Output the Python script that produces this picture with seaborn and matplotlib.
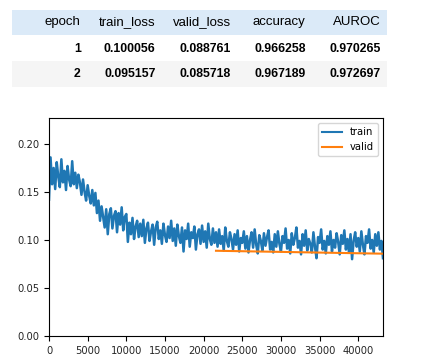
"""
plot.py - training curve for a 2-epoch run, with the epoch summary table above it.
"""
import matplotlib
matplotlib.use("Agg")
import matplotlib.pyplot as plt
import numpy as np
import pandas as pd
import seaborn as sns
from matplotlib.patches import Rectangle

# epoch summary table
table_columns = ["epoch", "train_loss", "valid_loss", "accuracy", "AUROC"]
epochs = ["1", "2"]
train_loss_epoch = ["0.100056", "0.095157"]
valid_loss_epoch = ["0.088761", "0.085718"]
accuracy_epoch = ["0.966258", "0.967189"]
auroc_epoch = ["0.970265", "0.972697"]

# per-batch training loss, read every 200 iterations
batch_step = 200
train_loss = [
    0.142, 0.186, 0.158, 0.175, 0.153, 0.181, 0.166, 0.155, 0.184, 0.160,
    0.172, 0.152, 0.177, 0.163, 0.156, 0.182, 0.158, 0.170, 0.154, 0.168,
    0.160, 0.147, 0.163, 0.150, 0.141, 0.157, 0.146, 0.138, 0.152, 0.136,
    0.149, 0.128, 0.141, 0.120, 0.135, 0.124, 0.113, 0.132, 0.106, 0.127,
    0.133, 0.112, 0.125, 0.130, 0.108, 0.128, 0.116, 0.134, 0.110, 0.124,
    0.127, 0.098, 0.118, 0.106, 0.123, 0.101, 0.114, 0.120, 0.103, 0.117,
    0.104, 0.121, 0.097, 0.112, 0.118, 0.099, 0.109, 0.116, 0.095, 0.113,
    0.119, 0.101, 0.110, 0.096, 0.117, 0.105, 0.098, 0.114, 0.102, 0.120,
    0.099, 0.112, 0.094, 0.116, 0.104, 0.097, 0.113, 0.088, 0.110, 0.101,
    0.117, 0.093, 0.108, 0.102, 0.114, 0.090, 0.106, 0.111, 0.096, 0.115,
    0.098, 0.109, 0.092, 0.117, 0.101, 0.095, 0.112, 0.097, 0.108, 0.093,
    0.111, 0.096, 0.104, 0.089, 0.113, 0.099, 0.093, 0.108, 0.101, 0.090,
    0.106, 0.095, 0.110, 0.088, 0.102, 0.097, 0.109, 0.091, 0.104, 0.087,
    0.100, 0.108, 0.092, 0.111, 0.095, 0.086, 0.105, 0.099, 0.089, 0.107,
    0.094, 0.103, 0.110, 0.090, 0.098, 0.087, 0.106, 0.093, 0.109, 0.096,
    0.088, 0.104, 0.097, 0.112, 0.091, 0.100, 0.086, 0.107, 0.095, 0.102,
    0.113, 0.092, 0.099, 0.085, 0.106, 0.094, 0.110, 0.089, 0.101, 0.096,
    0.087, 0.108, 0.093, 0.081, 0.103, 0.097, 0.111, 0.090, 0.099, 0.086,
    0.104, 0.095, 0.109, 0.088, 0.100, 0.092, 0.107, 0.098, 0.085, 0.105,
    0.096, 0.110, 0.090, 0.101, 0.087, 0.106, 0.080, 0.099, 0.108, 0.093,
    0.102, 0.088, 0.109, 0.095, 0.085, 0.104, 0.097, 0.111, 0.091, 0.100,
    0.087, 0.106, 0.094, 0.108, 0.090, 0.099, 0.081,
]

# validation loss at the end of each epoch
valid_iters = [21600, 43200]
valid_loss = [0.088761, 0.085718]

W, H = 423, 361
fig = plt.figure(figsize=(W / 100, H / 100), dpi=100)

# ---- table drawn in pixel coords on a full-figure axes
tab = fig.add_axes([0, 0, 1, 1])
tab.set_xlim(0, W)
tab.set_ylim(H, 0)
tab.axis("off")

row_edges = [(9.5, 35), (35, 60.7), (60.7, 86.7)]
row_colors = ["#dbeaf8", "#ffffff", "#f5f5f5"]
for (y0, y1), c in zip(row_edges, row_colors):
    tab.add_patch(Rectangle((11.7, y0), 375, y1 - y0, color=c, lw=0))

col_right = [80.7, 155.7, 230.7, 305.7, 380.7]
rows = [table_columns] + [list(r) for r in zip(epochs, train_loss_epoch, valid_loss_epoch,
                                                accuracy_epoch, auroc_epoch)]
text_y = [22, 48.5, 73.8]
for i, row in enumerate(rows):
    for xr, val in zip(col_right, row):
        tab.text(xr, text_y[i], val, ha="right", va="center",
                 family="Liberation Sans", fontsize=9.5 if i == 0 else 8.8,
                 fontweight="normal" if i == 0 else "bold", color="black")

# ---- loss curve
left, right, top, bottom = 49, 383, 118, 336
ax = fig.add_axes([left / W, (H - bottom) / H, (right - left) / W, (bottom - top) / H])

df_train = pd.DataFrame({"iteration": np.arange(len(train_loss)) * batch_step,
                         "loss": train_loss})
df_valid = pd.DataFrame({"iteration": valid_iters, "loss": valid_loss})

sns.lineplot(data=df_train, x="iteration", y="loss", ax=ax, color="#1f77b4",
             lw=1.8, label="train")
sns.lineplot(data=df_valid, x="iteration", y="loss", ax=ax, color="#ff7f0e",
             lw=1.5, label="valid")

ax.set_xlim(0, 43200)
ax.set_ylim(0, 0.227)
ax.set_xticks([0, 5000, 10000, 15000, 20000, 25000, 30000, 35000, 40000])
ax.set_yticks([0.0, 0.05, 0.10, 0.15, 0.20])
ax.set_yticklabels(["0.00", "0.05", "0.10", "0.15", "0.20"])
ax.set_xlabel("")
ax.set_ylabel("")
ax.tick_params(labelsize=7.2, length=3.5, width=0.8, color="black", labelcolor="#262626")
for s in ax.spines.values():
    s.set_linewidth(0.8)
    s.set_color("black")
leg = ax.legend(loc="upper right", fontsize=7.2, frameon=True, fancybox=True)
leg.get_frame().set_edgecolor("#cccccc")
for line in leg.get_lines():
    line.set_linewidth(1.5)

fig.savefig("out.png", dpi=100)
